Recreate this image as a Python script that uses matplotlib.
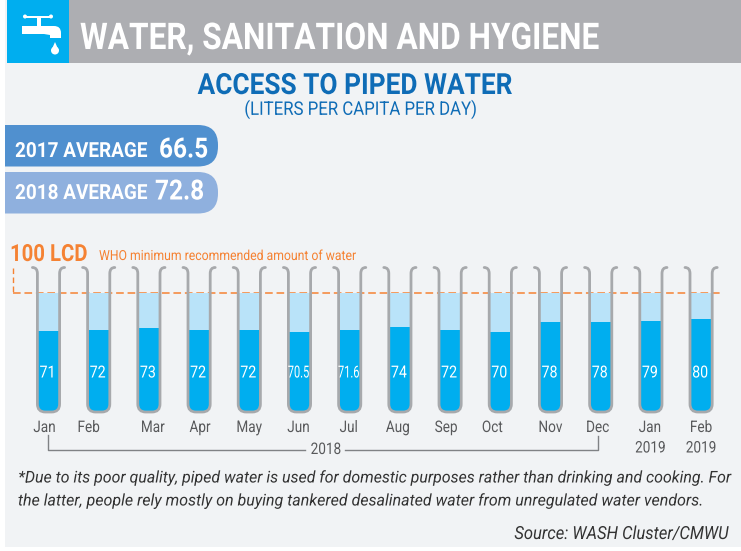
#!/usr/bin/env python3

import matplotlib

matplotlib.use("Agg")
import matplotlib.pyplot as plt
import numpy as np
from matplotlib.patches import Circle, FancyBboxPatch, PathPatch, Polygon, Rectangle
from matplotlib.path import Path
from matplotlib.patheffects import AbstractPathEffect
from matplotlib.transforms import Affine2D

months = ["Jan", "Feb", "Mar", "Apr", "May", "Jun", "Jul", "Aug", "Sep", "Oct", "Nov", "Dec", "Jan", "Feb"]
label_shift = [-4, -10, 4, 1, 0, -1, -1, -2, -4, -8, 0, -3, -1, 0]
values = [71, 72, 73, 72, 72, 70.5, 71.6, 74, 72, 70, 78, 78, 79, 80]
value_text = ["71", "72", "73", "72", "72", "70.5", "71.6", "74", "72", "70", "78", "78", "79", "80"]
target = 100

BLUE = "#00aeef"
LIGHT = "#b9e3f9"
WALL = "#a7a9ac"
ORANGE = "#f58233"
TITLE = "#0f6cb6"
BG = "#f1f3f5"
GREY_TEXT = "#58595b"
DARK_TEXT = "#333333"

plt.rcParams["font.family"] = ["Roboto", "DejaVu Sans"]


class Narrow(AbstractPathEffect):
    # no condensed Roboto here, so squeeze the glyphs around the anchor
    def __init__(self, anchor, sx):
        super().__init__()
        self.anchor = anchor
        self.sx = sx

    def draw_path(self, renderer, gc, tpath, affine, rgbFace=None):
        squeeze = Affine2D().translate(-self.anchor, 0).scale(self.sx, 1).translate(self.anchor, 0)
        renderer.draw_path(gc, tpath, affine + squeeze, rgbFace)


fig = plt.figure(figsize=(7.41, 5.51), dpi=100)
ax = fig.add_axes([0, 0, 1, 1])
ax.set_xlim(0, 741)
ax.set_ylim(551, 0)
ax.axis("off")

# pixel to data scale of the tubes
x0, dx = 48.5, 50.2
y100, per_unit = 293.3, 1.3
chart = fig.add_axes([0, 0, 1, 1], facecolor="none")
chart.set_xlim((0 - x0) / dx, (741 - x0) / dx)
chart.set_ylim(target - (551 - y100) / per_unit, target + y100 / per_unit)
chart.axis("off")
chart.set_zorder(2)


def label(x, y, s, size, sx, color, ha="left", **kw):
    t = ax.text(x, y, s, color=color, fontsize=size, va="center", ha=ha, **kw)
    t.set_path_effects([Narrow(x, sx)])
    t.set_zorder(8)
    return t


# background
ax.add_patch(Rectangle((5, 0), 736, 547, color=BG, lw=0))
ax.add_patch(Rectangle((69, 0), 672, 63, color="#adaeb2", lw=0))
ax.add_patch(Rectangle((7, 0), 62, 63, color=BLUE, lw=0))

# tap
ax.add_patch(Rectangle((25, 15.5), 26, 2, color="white", lw=0))
ax.add_patch(Circle((25, 16.5), 2, color="white", lw=0))
ax.add_patch(Circle((51, 16.5), 2, color="white", lw=0))
ax.add_patch(Rectangle((36.5, 16), 4.5, 10, color="white", lw=0))
ax.add_patch(Rectangle((22, 26), 28, 8, color="white", lw=0))
ax.add_patch(
    PathPatch(
        Path(
            [(40, 26), (54, 26), (61, 26), (61, 33), (61, 38), (50, 38), (50, 35), (44, 34), (36, 34), (40, 26)],
            [Path.MOVETO, Path.LINETO, Path.CURVE3, Path.CURVE3, Path.LINETO, Path.LINETO, Path.LINETO, Path.LINETO, Path.LINETO, Path.CLOSEPOLY],
        ),
        color="white",
        lw=0,
    )
)
ax.add_patch(Polygon([(55, 42), (51.5, 50), (58.5, 50)], color="white", lw=0))
ax.add_patch(Circle((55, 50.5), 4, color="white", lw=0))

label(80, 39, "WATER, SANITATION AND HYGIENE", 26.5, 0.86, "white", fontweight="bold")
label(355, 86, "ACCESS TO PIPED WATER", 21, 0.9, TITLE, ha="center", fontweight="bold")
label(360, 109.5, "(LITERS PER CAPITA PER DAY)", 13.5, 0.895, TITLE, ha="center")

# average pills
for top, col, name, val, vx, ty, vy in [
    (125, "#5090cf", "2017 AVERAGE", "66.5", 159, 151.5, 150),
    (172, "#8fb0de", "2018 AVERAGE", "72.8", 155, 193.5, 192),
]:
    ax.add_patch(FancyBboxPatch((-30, top), 248, 41.5, boxstyle="round,pad=0,rounding_size=20", color=col, lw=0))
    ax.add_patch(Rectangle((0, top), 5, 42, color="white", lw=0))
    label(15, ty, name, 15, 0.91, "white", fontweight="bold")
    label(vx, vy, val, 20, 0.88, "white", fontweight="bold")

# 100 lcd marker
label(10, 254.5, "100 LCD", 17, 0.86, ORANGE, fontweight="bold")
label(99, 256, "WHO minimum recommended amount of water", 10, 0.88, ORANGE)
ax.plot([13, 13], [268, 293.3], color=ORANGE, lw=1, ls=(0, (4, 2.5)))
ax.plot([13, 720], [293.3, 293.3], color=ORANGE, lw=1.1, ls=(0, (5, 2.5)), zorder=5)

# tubes
x = np.arange(len(values))
light = chart.bar(x, [target] * len(values), width=0.46, color=LIGHT, zorder=1)
full = chart.bar(x, values, width=0.46, color=BLUE, zorder=2)

hw, bottom, top, r = 11.1, 412, 267.5, 8
for i in x:
    cx = x0 + dx * i
    wall = Path(
        [
            (cx - hw - 5, top),
            (cx - hw, top),
            (cx - hw, top + 6),
            (cx - hw, bottom - r),
            (cx - hw, bottom),
            (cx - hw + r, bottom),
            (cx + hw - r, bottom),
            (cx + hw, bottom),
            (cx + hw, bottom - r),
            (cx + hw, top + 6),
            (cx + hw, top),
            (cx + hw + 5, top),
        ],
        [Path.MOVETO, Path.CURVE3, Path.CURVE3, Path.LINETO, Path.CURVE3, Path.CURVE3, Path.LINETO, Path.CURVE3, Path.CURVE3, Path.LINETO, Path.CURVE3, Path.CURVE3],
    )
    inner = PathPatch(wall, color="none", lw=0, transform=ax.transData)
    ax.add_patch(inner)
    light[i].set_clip_path(inner)
    full[i].set_clip_path(inner)
    chart.add_patch(PathPatch(wall, fill=False, ec=WALL, lw=2, capstyle="round", zorder=6, transform=ax.transData))

    squeeze = 0.66 if "." in value_text[i] else 0.85
    t = chart.text(i - 0.02, target - (373 - y100) / per_unit, value_text[i], color="white", fontsize=12, va="center", ha="center", zorder=7)
    t.set_path_effects([Narrow(cx - 1, squeeze)])
    label(cx + label_shift[i], 427.5, months[i], 11.5, 0.85, GREY_TEXT, ha="center")

label(x0 + dx * 12 - 0.5, 448, "2019", 11.5, 0.85, GREY_TEXT, ha="center")
label(x0 + dx * 13, 448, "2019", 11.5, 0.85, GREY_TEXT, ha="center")

# 2018 bracket
ax.plot([48, 48, 305], [435, 450, 450], color="#808285", lw=1)
ax.plot([345, 598, 598], [450, 450, 436], color="#808285", lw=1)
label(326, 449.5, "2018", 11.5, 0.85, GREY_TEXT, ha="center")

# notes
note_1 = "*Due to its poor quality, piped water is used for domestic purposes rather than drinking and cooking. For"
note_2 = "the latter, people rely mostly on buying tankered desalinated water from unregulated water vendors."
label(375.5, 477.5, note_1, 11.7, 0.98, DARK_TEXT, ha="center", style="italic")
label(361.5, 500.5, note_2, 11.7, 0.985, DARK_TEXT, ha="center", style="italic")
label(728, 534, "Source: WASH Cluster/CMWU", 13, 0.917, DARK_TEXT, ha="right", style="italic")

fig.savefig("out.png", dpi=100, facecolor="white")
